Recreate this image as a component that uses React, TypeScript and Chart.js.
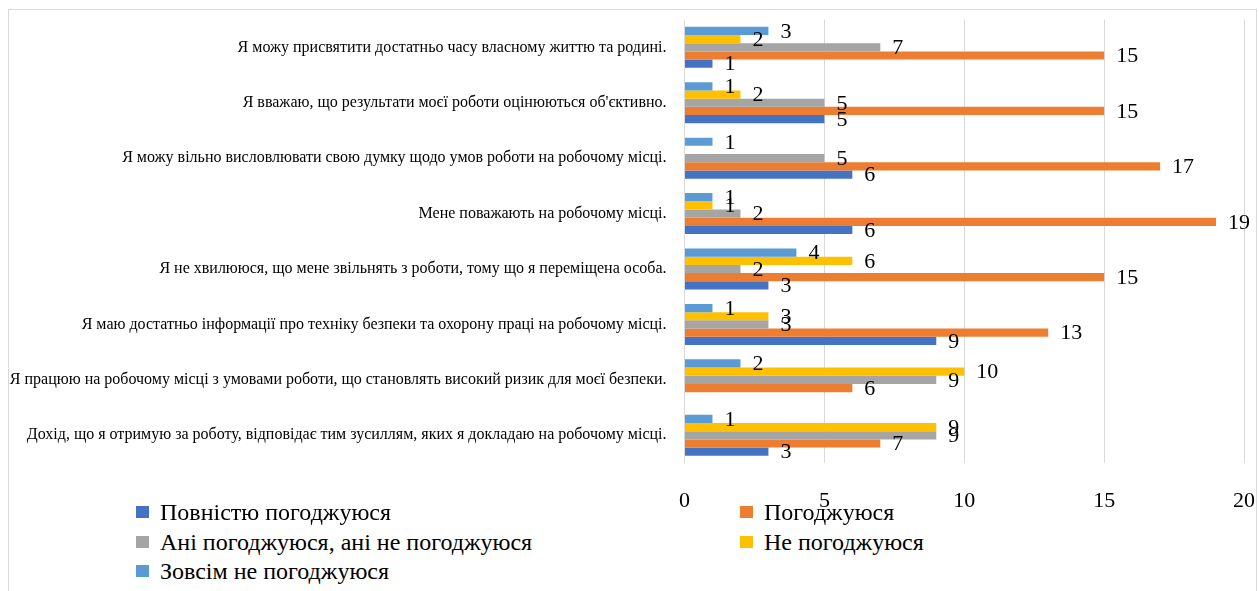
import React, { useEffect, useRef } from "react";
import { Chart, registerables } from "chart.js";

Chart.register(...registerables);

const categories = [
  "Я можу присвятити достатньо часу власному життю та родині.",
  "Я вважаю, що результати моєї роботи оцінюються об'єктивно.",
  "Я можу вільно висловлювати свою думку щодо умов роботи на робочому місці.",
  "Мене поважають на робочому місці.",
  "Я не хвилююся, що мене звільнять з роботи, тому що я переміщена особа.",
  "Я маю достатньо інформації про техніку безпеки та охорону праці на робочому місці.",
  "Я працюю на робочому місці з умовами роботи, що становлять високий ризик для моєї безпеки.",
  "Дохід, що я отримую за роботу, відповідає тим зусиллям, яких я докладаю на робочому місці.",
];

const fullyAgree: (number | null)[] = [1, 5, 6, 6, 3, 9, null, 3];
const agree: (number | null)[] = [15, 15, 17, 19, 15, 13, 6, 7];
const neutral: (number | null)[] = [7, 5, 5, 2, 2, 3, 9, 9];
const disagree: (number | null)[] = [2, 2, null, 1, 6, 3, 10, 9];
const stronglyDisagree: (number | null)[] = [3, 1, 1, 1, 4, 1, 2, 1];

const xTicks = [0, 5, 10, 15, 20];

const seriesNames = [
  "Повністю погоджуюся",
  "Погоджуюся",
  "Ані погоджуюся, ані не погоджуюся",
  "Не погоджуюся",
  "Зовсім не погоджуюся",
];
const seriesColors = ["#4472C4", "#ED7D31", "#A5A5A5", "#FFC000", "#5B9BD5"];

const FONT = '"Liberation Serif", "DejaVu Serif", serif';

const dataLabelPlugin = {
  id: "barValueLabels",
  afterDatasetsDraw(chart: any) {
    const ctx = chart.ctx;
    ctx.save();
    ctx.font = `22px ${FONT}`;
    ctx.fillStyle = "#000000";
    ctx.textAlign = "left";
    ctx.textBaseline = "middle";
    chart.data.datasets.forEach((ds: any, i: number) => {
      const meta = chart.getDatasetMeta(i);
      meta.data.forEach((el: any, j: number) => {
        const v = ds.data[j];
        if (v === null || v === undefined) return;
        ctx.fillText(String(v), el.x + 12, el.y + 1);
      });
    });
    ctx.restore();
  },
};

function BarChart() {
  const ref = useRef<HTMLCanvasElement | null>(null);
  useEffect(() => {
    if (!ref.current) return;
    // datasets listed top-to-bottom within each category
    const order = [4, 3, 2, 1, 0];
    const values = [fullyAgree, agree, neutral, disagree, stronglyDisagree];
    const chart = new Chart(ref.current, {
      type: "bar",
      data: {
        labels: categories,
        datasets: order.map((k) => ({
          label: seriesNames[k],
          data: values[k],
          backgroundColor: seriesColors[k],
          borderWidth: 0,
          categoryPercentage: 0.74,
          barPercentage: 1,
        })),
      },
      options: {
        indexAxis: "y",
        responsive: false,
        animation: false,
        maintainAspectRatio: false,
        layout: { padding: { top: 9, right: 10, left: 0, bottom: 0 } },
        plugins: {
          legend: { display: false },
          tooltip: { enabled: false },
        },
        scales: {
          x: {
            min: 0,
            max: 20,
            afterBuildTicks: (s: any) => {
              s.ticks = xTicks.map((v) => ({ value: v }));
            },
            afterFit: (s: any) => {
              s.height = 47;
            },
            grid: {
              color: "#d9d9d9",
              lineWidth: 1,
              drawTicks: true,
              tickLength: 25,
              tickColor: "rgba(0,0,0,0)",
            },
            border: { display: false },
            ticks: {
              padding: 0,
              color: "#000000",
              font: { family: FONT, size: 22 },
            },
          },
          y: {
            afterFit: (s: any) => {
              s.width = 675.5;
            },
            grid: {
              display: true,
              drawOnChartArea: false,
              drawTicks: true,
              tickLength: 18,
              tickColor: "rgba(0,0,0,0)",
              color: "rgba(0,0,0,0)",
            },
            border: { display: false },
            ticks: {
              padding: 0,
              color: "#000000",
              autoSkip: false,
              font: { family: FONT, size: 16 },
            },
          },
        },
      },
      plugins: [dataLabelPlugin],
    });
    return () => chart.destroy();
  }, []);
  return (
    <canvas
      ref={ref}
      width={1246}
      height={500}
      style={{ position: "absolute", left: 0, top: 0, width: 1246, height: 500 }}
    />
  );
}

const legendItems = [
  { k: 0, left: 127, top: 0 },
  { k: 1, left: 731, top: 0 },
  { k: 2, left: 127, top: 29.5 },
  { k: 3, left: 731, top: 29.5 },
  { k: 4, left: 127, top: 59 },
];

export default function App() {
  return (
    <div
      style={{
        position: "absolute",
        left: 8,
        top: 9,
        width: 1247,
        height: 600,
        borderTop: "1px solid #d9d9d9",
        borderLeft: "1px solid #d9d9d9",
        borderRight: "1px solid #d9d9d9",
        background: "#ffffff",
        fontFamily: FONT,
      }}
    >
      <BarChart />
      {legendItems.map((it) => (
        <div
          key={it.k}
          style={{
            position: "absolute",
            left: it.left,
            top: 490 + it.top,
            height: 24,
            display: "flex",
            alignItems: "center",
            whiteSpace: "nowrap",
            fontSize: 24,
            lineHeight: "24px",
            color: "#000000",
          }}
        >
          <span
            style={{
              display: "inline-block",
              width: 13,
              height: 12,
              background: seriesColors[it.k],
              marginRight: 11,
            }}
          />
          <span>{seriesNames[it.k]}</span>
        </div>
      ))}
    </div>
  );
}
